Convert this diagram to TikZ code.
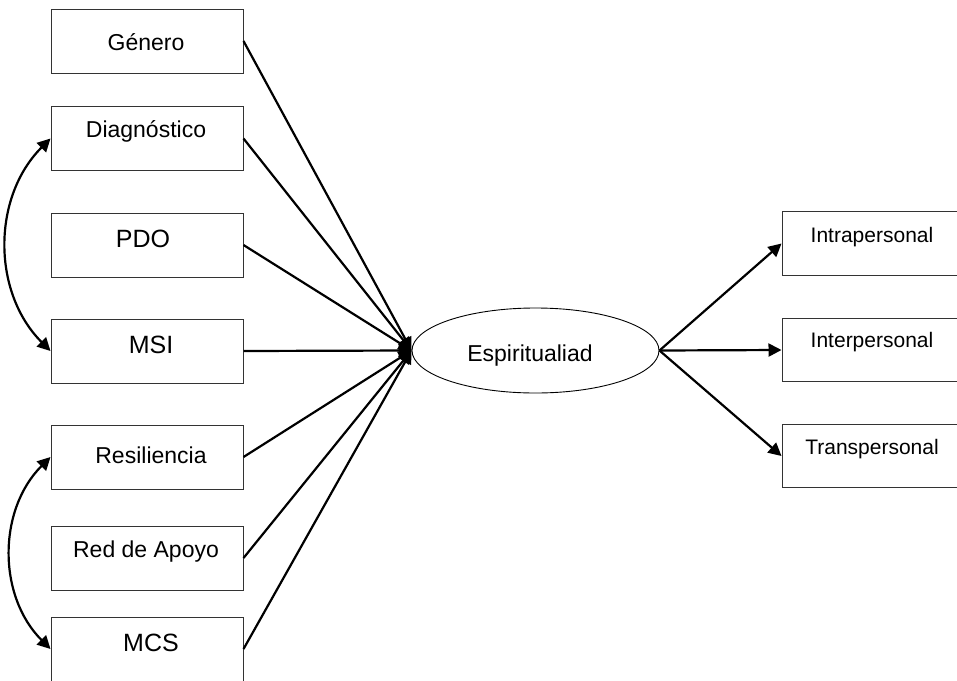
\documentclass[tikz,border=0pt]{standalone}
\usepackage{fontspec}
\setmainfont{Liberation Sans}
\usetikzlibrary{arrows.meta,shapes.geometric}
\begin{document}
\begin{tikzpicture}[x=1pt,y=-1pt,
  box/.style={draw=black!80,line width=1pt,minimum width=192pt,minimum height=64pt,inner sep=0pt},
  rbox/.style={draw=black!80,line width=1pt,minimum width=180pt,minimum height=63.5pt,inner sep=0pt},
  lab/.style={anchor=base,inner sep=0pt,font=\fontsize{23}{23}\selectfont},
  biglab/.style={anchor=base,inner sep=0pt,font=\fontsize{25}{25}\selectfont},
  rlab/.style={anchor=base,inner sep=0pt,font=\fontsize{21}{21}\selectfont},
  conn/.style={line width=2.2pt,-{Triangle[length=13pt,width=13pt]}},
  dconn/.style={line width=2.2pt,{Triangle[length=13pt,width=13pt]}-{Triangle[length=13pt,width=13pt]}}
]
\useasboundingbox (0,0) rectangle (957,680);
% left boxes
\node[box] (gen)  at (147,41)    {};
\node[box] (diag) at (147,138.5) {};
\node[box] (pdo)  at (147,245)   {};
\node[box] (msi)  at (147,351)   {};
\node[box] (res)  at (147,457)   {};
\node[box] (red)  at (147,558)   {};
\node[box] (mcs)  at (147,649)   {};
\node[lab]    (tgen)  at (146,50)  {Género};
\node[lab]    (tdiag) at (146,137) {Diagnóstico};
\node[biglab] (tpdo)  at (143,247) {PDO};
\node[biglab] (tmsi)  at (151,353) {MSI};
\node[lab]    (tres)  at (151,463) {Resiliencia};
\node[lab]    (tred)  at (146,557) {Red de Apoyo};
\node[biglab] (tmcs)  at (151,651) {MCS};
% ellipse
\node[ellipse,draw=black,line width=0.9pt,minimum width=247pt,minimum height=85pt,inner sep=0pt] (esp) at (535.5,350.5) {};
\node[lab] (tesp) at (530,361) {Espiritualiad};
% right boxes
\node[rbox] (intra) at (872,243.5) {};
\node[rbox] (inter) at (872,350)   {};
\node[rbox] (trans) at (872,456)   {};
\node[rlab] (tintra) at (872,242) {Intrapersonal};
\node[rlab] (tinter) at (872,347) {Interpersonal};
\node[rlab] (ttrans) at (872,454) {Transpersonal};
% connectors
\foreach \n in {gen,diag,pdo,msi,res,red,mcs}
  \draw[conn] (\n.east) -- (esp.west);
\foreach \n in {intra,inter,trans}
  \draw[conn] (esp.east) -- (\n.west);
\draw[dconn] (diag.west) to[out=225,in=135] (msi.west);
\draw[dconn] (res.west) to[out=225,in=135] (mcs.west);
\end{tikzpicture}
\end{document}
